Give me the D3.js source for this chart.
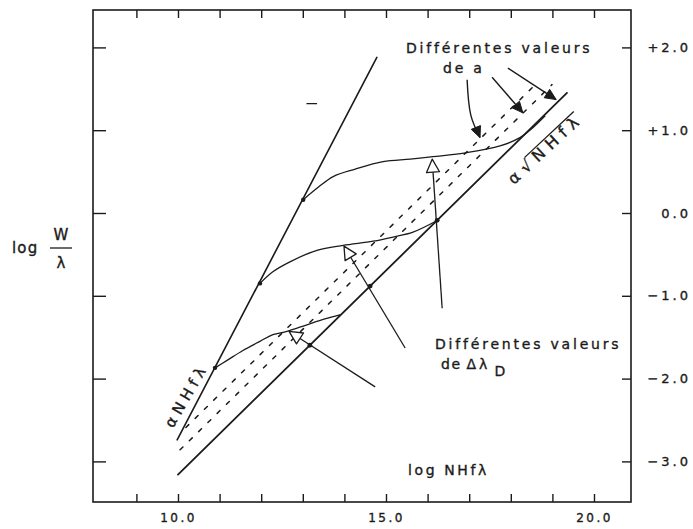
<!DOCTYPE html>
<html>
<head>
<meta charset="utf-8">
<script src="https://cdn.jsdelivr.net/npm/d3@7"></script>
<style>
  html, body { margin: 0; padding: 0; background: #fff; }
  svg { display: block; }
  text { font-family: "DejaVu Sans", sans-serif; fill: #1b1b1b; stroke: #1b1b1b; stroke-width: 0.35px; }
</style>
</head>
<body>
<svg id="chart" width="693" height="529"></svg>
<script>
// ---- axis ticks -------------------------------------------------------
const xTicks = [9, 10, 11, 12, 13, 14, 15, 16, 17, 18, 19, 20];
const xTickLabels = [10, 15, 20];
const yTicks = [-3, -2, -1, 0, 1, 2];
const yTickLabels = ["−3.0", "−2.0", "−1.0", "0.0", "+1.0", "+2.0"];

// ---- asymptotic laws (log NHfλ, log W/λ) ------------------------------
const linearLaw = [[9.98, -2.74], [14.78, 1.88]];      // W ∝ NHfλ
const sqrtLaw   = [[10.0, -3.16], [19.35, 1.45]];      // W ∝ √NHfλ
// damping branches for other values of a
const dampingA  = [[10.05, -2.86], [18.99, 1.55]];
const dampingB  = [[10.19, -2.59], [18.65, 1.58]];

// ---- curves of growth for three Doppler widths ------------------------
const curveLow = [[10.89, -1.87], [11.18, -1.78], [11.56, -1.66], [11.97, -1.55],
                  [12.28, -1.47], [12.62, -1.43], [13.10, -1.35], [13.53, -1.28],
                  [13.89, -1.23]];
const curveMid = [[11.97, -0.85], [12.28, -0.71], [12.69, -0.59], [13.34, -0.45],
                  [13.97, -0.39], [14.69, -0.34], [15.17, -0.29], [15.65, -0.23],
                  [16.23, -0.09]];
const curveHigh = [[13.01, 0.16], [13.37, 0.31], [13.73, 0.44], [14.26, 0.53],
                   [14.93, 0.62], [15.58, 0.65], [16.13, 0.68], [16.95, 0.73],
                   [17.74, 0.81], [18.22, 0.91], [18.53, 1.03], [18.82, 1.17]];

// ---- annotation pointers ----------------------------------------------
// "Différentes valeurs de ΔλD" : open-headed pointers (tail, tip)
const dopplerPointers = [
  [[14.74, -2.10], [12.67, -1.43]],
  [[15.46, -1.63], [13.99, -0.40]],
  [[16.35, -1.15], [16.11, 0.65]]
];
// where those pointers cross the √ law
const dopplerCrossX = [13.17, 14.62, 16.23];
// "Différentes valeurs de a" : filled-head arrows (tail ... tip)
const dampingArrows = [
  [[16.95, 1.61], [17.04, 1.18], [17.26, 0.91]],
  [[17.55, 1.64], [18.29, 1.21]],
  [[17.93, 1.75], [19.09, 1.37]]
];
const strayDash = [[13.10, 1.32], [13.33, 1.32]];

// ---- layout -----------------------------------------------------------
const frame = { left: 93, right: 631, top: 10, bottom: 502 };
const ink = "#1b1b1b";

const svg = d3.select("#chart");
const x = d3.scaleLinear().domain([10, 20]).range([178, 594]);
const y = d3.scaleLinear().domain([-3, 2]).range([461.4, 47.4]);

const straight = d3.line().x(d => x(d[0])).y(d => y(d[1]));
const smooth = d3.line().x(d => x(d[0])).y(d => y(d[1])).curve(d3.curveCatmullRom.alpha(0.5));

// frame
svg.append("rect")
  .attr("x", frame.left).attr("y", frame.top)
  .attr("width", frame.right - frame.left).attr("height", frame.bottom - frame.top)
  .attr("fill", "none").attr("stroke", ink).attr("stroke-width", 1.6);

function styleAxis(g) {
  g.select(".domain").remove();
  g.selectAll(".tick line").attr("stroke", ink).attr("stroke-width", 1.4);
  g.selectAll(".tick text")
    .attr("fill", ink)
    .style("font-family", "DejaVu Sans, sans-serif")
    .style("font-size", "12px")
    .style("letter-spacing", "2.5px");
}

// bottom axis
svg.append("g").attr("transform", `translate(0,${frame.bottom})`)
  .call(d3.axisBottom(x).tickValues(xTicks).tickSize(-8).tickPadding(11)
    .tickFormat(d => xTickLabels.includes(d) ? d3.format(".1f")(d) : ""))
  .call(styleAxis);
// top axis
svg.append("g").attr("transform", `translate(0,${frame.top})`)
  .call(d3.axisTop(x).tickValues(xTicks).tickSize(-8).tickFormat(""))
  .call(styleAxis);
// left axis
svg.append("g").attr("transform", `translate(${frame.left},0)`)
  .call(d3.axisLeft(y).tickValues(yTicks).tickSize(-13).tickFormat(""))
  .call(styleAxis);
// right axis with labels
const rightAxis = svg.append("g").attr("transform", `translate(${frame.right},0)`)
  .call(d3.axisRight(y).tickValues(yTicks).tickSize(-9)
    .tickFormat(d => yTickLabels[yTicks.indexOf(d)]))
  .call(styleAxis);
rightAxis.selectAll(".tick text")
  .attr("x", 60).attr("text-anchor", "end")
  .style("font-size", "13px").style("letter-spacing", "3px");

// ---- laws and damping branches ----------------------------------------
const plot = svg.append("g").attr("fill", "none").attr("stroke", ink)
  .attr("stroke-linecap", "round");

plot.append("path").attr("d", straight(linearLaw)).attr("stroke-width", 1.6);
plot.append("path").attr("d", straight(sqrtLaw)).attr("stroke-width", 1.8);
[dampingA, dampingB].forEach(d => {
  plot.append("path").attr("d", straight(d))
    .attr("stroke-width", 1.5).attr("stroke-dasharray", "4,9");
});

[curveLow, curveMid, curveHigh].forEach(c => {
  plot.append("path").attr("d", smooth(c)).attr("stroke-width", 1.3);
});

plot.append("path").attr("d", straight(strayDash)).attr("stroke-width", 1.3);

// junction marks where each curve leaves the linear law
svg.append("g").selectAll("circle")
  .data([curveLow[0], curveMid[0], curveHigh[0]])
  .join("circle")
  .attr("cx", d => x(d[0])).attr("cy", d => y(d[1])).attr("r", 2.2)
  .attr("fill", ink);

// crossing marks on the √ law
const sqrtAt = d3.scaleLinear().domain(sqrtLaw.map(d => d[0])).range(sqrtLaw.map(d => d[1]));
svg.append("g").selectAll("circle")
  .data(dopplerCrossX)
  .join("circle")
  .attr("cx", d => x(d)).attr("cy", d => y(sqrtAt(d))).attr("r", 2.4)
  .attr("fill", ink);

// arrowhead polygon (pixel space) with tip at p and direction from q to p
function headPoints(p, q, len, half) {
  const dx = p[0] - q[0], dy = p[1] - q[1];
  const n = Math.hypot(dx, dy), ux = dx / n, uy = dy / n;
  const bx = p[0] - ux * len, by = p[1] - uy * len;
  return [[p[0], p[1]], [bx - uy * half, by + ux * half], [bx + uy * half, by - ux * half]];
}
const px = d => [x(d[0]), y(d[1])];

// Doppler-width pointers with open heads
dopplerPointers.forEach(([tail, tip]) => {
  const pTip = px(tip), pTail = px(tail);
  const pts = headPoints(pTip, pTail, 13, 6.5);
  const base = [(pts[1][0] + pts[2][0]) / 2, (pts[1][1] + pts[2][1]) / 2];
  svg.append("line")
    .attr("x1", pTail[0]).attr("y1", pTail[1]).attr("x2", base[0]).attr("y2", base[1])
    .attr("stroke", ink).attr("stroke-width", 1.3);
  svg.append("polygon")
    .attr("points", pts.map(p => p.join(",")).join(" "))
    .attr("fill", "#fff").attr("stroke", ink).attr("stroke-width", 1.3)
    .attr("stroke-linejoin", "round");
});

// damping arrows with filled heads
dampingArrows.forEach(a => {
  svg.append("path").attr("d", (a.length > 2 ? smooth : straight)(a))
    .attr("fill", "none").attr("stroke", ink).attr("stroke-width", 1.4);
  const pTip = px(a[a.length - 1]), pPrev = px(a[a.length - 2]);
  svg.append("polygon")
    .attr("points", headPoints(pTip, pPrev, 11, 5).map(p => p.join(",")).join(" "))
    .attr("fill", ink).attr("stroke", ink).attr("stroke-width", 1)
    .attr("stroke-linejoin", "round");
});

// ---- text ---------------------------------------------------------------
const note = (tx, ty, str, size, spacing) => svg.append("text")
  .attr("x", tx).attr("y", ty).text(str)
  .style("font-size", size + "px").style("letter-spacing", spacing + "px");

note(406, 53, "Différentes valeurs", 14, 2.8);
note(443, 73, "de a", 14, 2.8);

note(435, 349, "Différentes valeurs", 14, 2.8);
const dl = svg.append("text").attr("x", 441).attr("y", 369)
  .style("font-size", "14px").style("letter-spacing", "1.5px");
dl.append("tspan").text("de");
dl.append("tspan").attr("dx", 5).style("letter-spacing", "3px").text("Δλ");
dl.append("tspan").attr("dx", 4).attr("dy", 7).text("D");

note(408, 475, "log NHfλ", 14, 2.6);

// y-axis title: log W/λ
note(12, 253, "log", 15, 1.2);
svg.append("text").attr("x", 61).attr("y", 240).attr("text-anchor", "middle")
  .style("font-size", "15px").text("W");
svg.append("line").attr("x1", 50).attr("x2", 72).attr("y1", 248).attr("y2", 248)
  .attr("stroke", ink).attr("stroke-width", 1.3);
svg.append("text").attr("x", 61).attr("y", 268).attr("text-anchor", "middle")
  .style("font-size", "15px").text("λ");

// rotated law labels
const linLabelAt = [10.20, -2.20];
svg.append("text")
  .attr("transform", `translate(${x(linLabelAt[0])},${y(linLabelAt[1])}) rotate(-60)`)
  .attr("text-anchor", "middle").attr("dy", "0.35em")
  .style("font-size", "15px").style("letter-spacing", "5px")
  .text("αNHfλ");

const sqrtLabelAt = [18.83, 0.78];
const sg = svg.append("g")
  .attr("transform", `translate(${x(sqrtLabelAt[0])},${y(sqrtLabelAt[1])}) rotate(-43)`);
const st = sg.append("text")
  .attr("text-anchor", "middle").attr("dy", "0.35em")
  .style("font-size", "16px").style("letter-spacing", "6px")
  .text("α√NHfλ");
const node = st.node();
const e5 = node.getEndPositionOfChar(5);
const vTop = e5.y - 16 * 0.82;
sg.append("line")
  .attr("x1", node.getEndPositionOfChar(1).x - 6).attr("x2", e5.x - 2)
  .attr("y1", vTop).attr("y2", vTop)
  .attr("stroke", ink).attr("stroke-width", 1.3);
</script>
</body>
</html>
